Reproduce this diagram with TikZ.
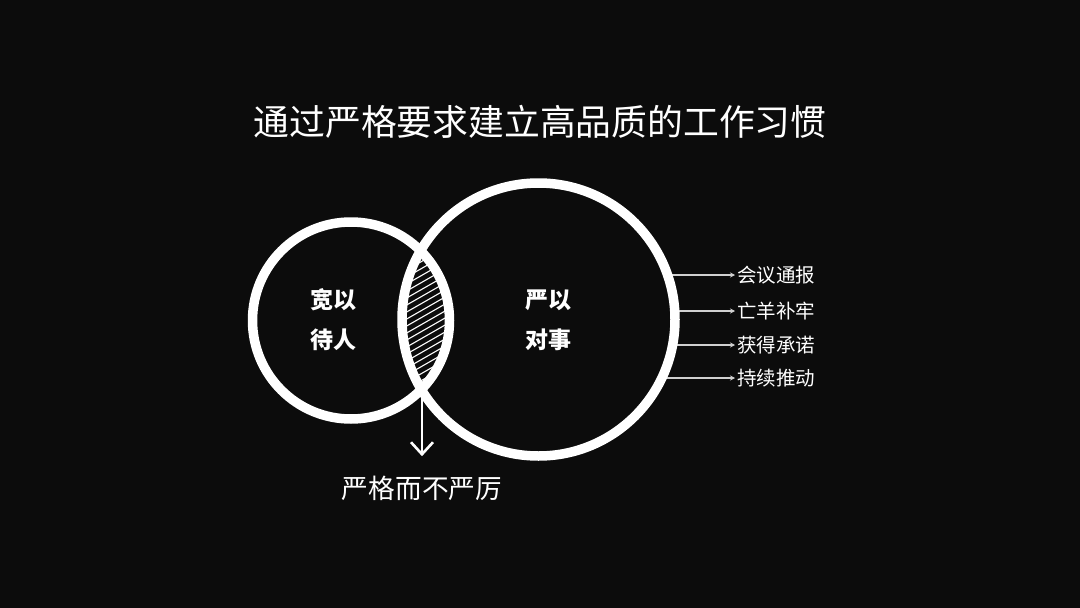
\documentclass[tikz,border=0pt]{standalone}
\usepackage{fontspec}
\setmainfont{Noto Sans CJK SC}
\usetikzlibrary{arrows.meta}
\definecolor{bgcolor}{HTML}{0C0C0C}
\definecolor{tagcolor}{HTML}{D0D0D0}

\begin{document}
\begin{tikzpicture}[x=1pt, y=-1pt,
  ring/.style={white, line width=9.5pt},
  hatchline/.style={white, line width=1.1pt},
  tagline/.style={tagcolor, line width=1.3pt, -{Stealth[length=5pt,width=5pt]}},
  taglabel/.style={white, anchor=west, inner sep=2pt, font=\fontsize{19.5}{19.5}\selectfont},
  circtext/.style={white, align=center, font=\fontsize{23}{40}\selectfont\bfseries}]
  % Background
  \fill[bgcolor] (0,0) rectangle (1080,608);
  \useasboundingbox (0,0) rectangle (1080,608);
  % Title
  \node[white, font=\fontsize{35.8}{36}\selectfont] (title) at (540,122) {通过严格要求建立高品质的工作习惯};
  % Centres
  \coordinate (lc) at (351,320.5);
  \coordinate (rc) at (538.5,319.5);
  \coordinate (lensbot) at (422,392);
  % Tags on the right
  \foreach \yy/\tagname/\tagtext in {275/t1/会议通报, 311/t2/亡羊补牢, 345/t3/获得承诺, 378/t4/持续推动} {
    \node[taglabel] (\tagname) at (735,\yy) {\tagtext};
    \draw[tagline] (rc |- \tagname.west) -- (\tagname.west);
  }
  \fill[bgcolor] (rc) circle (136pt);
  % Lens hatching
  \begin{scope}
    \clip (lc) circle (98.5pt);
    \clip (rc) circle (136.5pt);
    \foreach \i in {-14,...,30} {
      \draw[hatchline] (370,200+7*\i) -- (480,200+7*\i-63);
    }
  \end{scope}
  % Rings
  \draw[ring] (lc) circle (98.5pt);
  \draw[ring] (rc) circle (136.5pt);
  % Texts inside
  \node[circtext] (kuan) at (333,320) {宽以\\待人};
  \node[circtext] (yan) at (548,320) {严以\\对事};
  % Down arrow
  \node[white, font=\fontsize{26.7}{27}\selectfont] (bottom) at (422,488) {严格而不严厉};
  \draw[white, line width=2.6pt, -{Straight Barb[length=12pt,width=22pt]}, shorten >=16pt] (lensbot) -- (lensbot |- bottom.north);
\end{tikzpicture}
\end{document}
